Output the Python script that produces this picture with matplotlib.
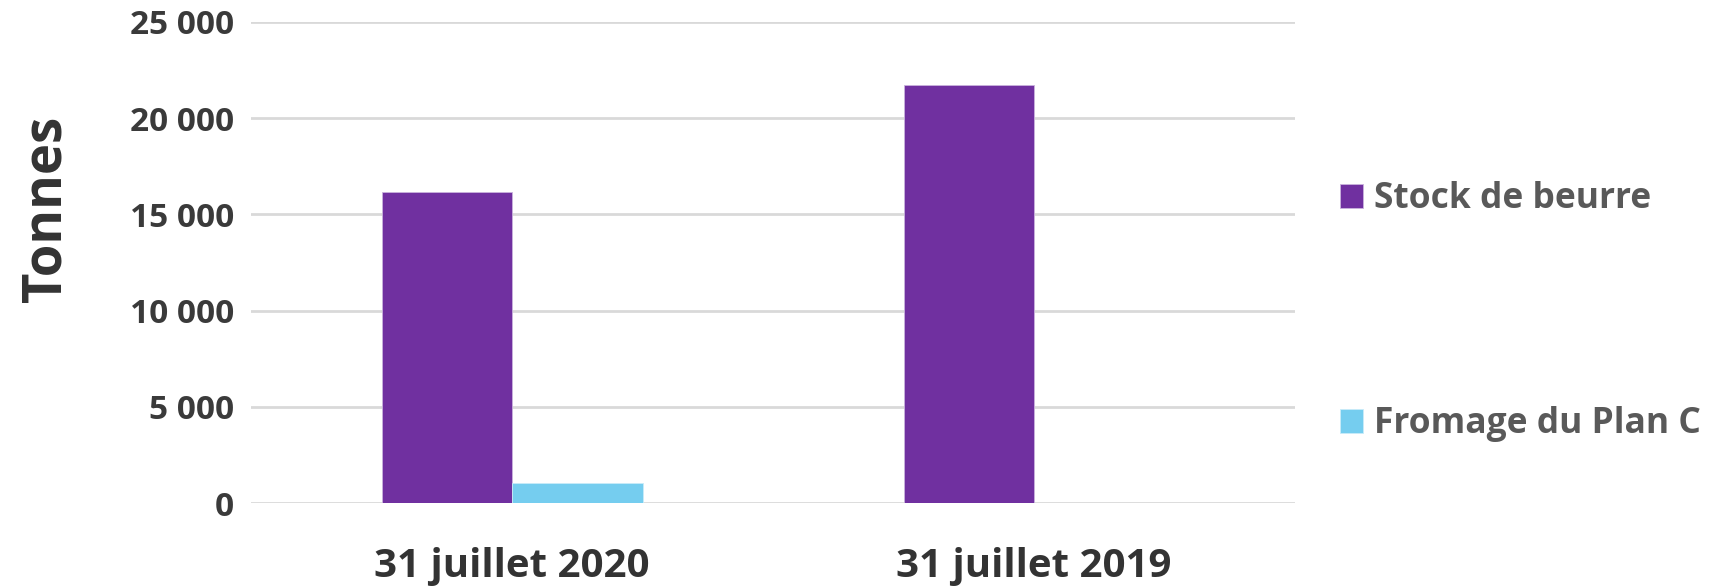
import numpy as np
import matplotlib.pyplot as plt

# data
categories = ['31 juillet 2020', '31 juillet 2019']
series_names = ['Stock de beurre', 'Fromage du Plan C']
beurre = [16180, 21700]
fromage = [1030, 0]
yticks = [0, 5000, 10000, 15000, 20000, 25000]
ytick_labels = ['0', '5 000', '10 000', '15 000', '20 000', '25 000']

colors = ['#7030A0', '#75CDEF']

plt.rcParams['font.family'] = ['Open Sans', 'DejaVu Sans']
plt.rcParams['font.weight'] = 'bold'

fig = plt.figure(figsize=(17.11, 5.86), dpi=100)
ax = fig.add_axes([0.1467, 0.1416, 0.6102, 0.8209])

x = np.arange(len(categories))
w = 0.25
ax.bar(x - w / 2, beurre, w, color=colors[0], edgecolor='#C9B3DD', linewidth=0.6,
       label=series_names[0], zorder=3)
ax.bar(x + w / 2, fromage, w, color=colors[1], edgecolor='#C9ECF9', linewidth=0.6,
       label=series_names[1], zorder=3)

ax.set_xlim(-0.5, 1.5)
ax.set_ylim(0, 25000)
ax.set_yticks(yticks)
ax.set_yticklabels(ytick_labels, fontsize=24, fontweight='bold', color='#3a3a3a')
ax.set_xticks(x)
ax.set_xticklabels(categories, fontsize=29, fontweight='bold', color='#333333')
ax.tick_params(axis='both', length=0)
ax.tick_params(axis='y', pad=12)
ax.tick_params(axis='x', pad=32)
ax.grid(axis='y', color='#D9D9D9', linewidth=2, zorder=0)
for s in ax.spines.values():
    s.set_visible(False)

fig.text(0.027, 0.643, 'Tonnes', rotation=90, fontsize=38, fontweight='bold',
         color='#333333', ha='center', va='center')

leg = fig.legend(loc='center left', bbox_to_anchor=(0.783, 0.468), frameon=False,
                 fontsize=25.5, labelcolor='#595959', handlelength=0.66,
                 handleheight=0.66, handletextpad=0.3, labelspacing=5.35,
                 borderpad=0, borderaxespad=0)
for t in leg.get_texts():
    t.set_fontweight('bold')

fig.savefig('out.png', dpi=100)
